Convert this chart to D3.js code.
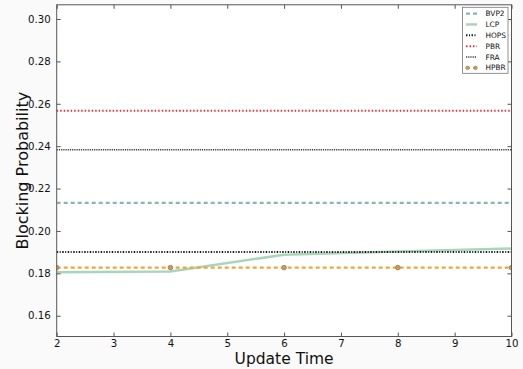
<!DOCTYPE html>
<html><head><meta charset="utf-8">
<script src="https://cdn.jsdelivr.net/npm/d3@7"></script>
<style>
html,body{margin:0;padding:0;background:#fafafa;}
svg{display:block;font-family:"DejaVu Sans",sans-serif;}
</style></head>
<body><svg id="c" width="523" height="369"></svg>
<script>
const updateTimes = [2, 4, 6, 8, 10];
const BVP2 = [0.2132, 0.2132, 0.2132, 0.2132, 0.2132];
const LCP  = [0.1805, 0.1809, 0.1888, 0.1903, 0.1917];
const HOPS = [0.1901, 0.1901, 0.1901, 0.1901, 0.1901];
const PBR  = [0.2567, 0.2567, 0.2567, 0.2567, 0.2567];
const FRA  = [0.2383, 0.2383, 0.2383, 0.2383, 0.2383];
const HPBR = [0.1827, 0.1827, 0.1827, 0.1827, 0.1827];
const seriesNames = ["BVP2", "LCP", "HOPS", "PBR", "FRA", "HPBR"];
const xTicks = [2, 3, 4, 5, 6, 7, 8, 9, 10];
const yTicks = [0.16, 0.18, 0.20, 0.22, 0.24, 0.26, 0.28, 0.30];

const styles = {
  BVP2: {color: "#8db4b4", width: 2.2, dash: "4,3"},
  LCP:  {color: "#a9d6bb", width: 2.5, dash: null},
  HOPS: {color: "#1a1a1a", width: 2, dash: "1.5,1.5,1,1.5"},
  PBR:  {color: "#e8333c", width: 2, dash: "1.5,2"},
  FRA:  {color: "#3a3a3a", width: 1.6, dash: "1.2,1"},
  HPBR: {color: "#f0a53c", width: 2.4, dash: "4,3", marker: true}
};
const data = {BVP2, LCP, HOPS, PBR, FRA, HPBR};

const L = 56.7, R = 511.5, T = 4.8, B = 336.5;
const svg = d3.select("#c");
const x = d3.scaleLinear().domain([2, 10]).range([L, R]);
const y = d3.scaleLinear().domain([0.1502, 0.3067]).range([B, T]);

svg.append("rect").attr("x", L).attr("y", T).attr("width", R - L).attr("height", B - T).attr("fill", "#fff");

svg.append("clipPath").attr("id", "pc").append("rect")
  .attr("x", L).attr("y", T).attr("width", R - L).attr("height", B - T);

const line = d3.line().x((d, i) => x(updateTimes[i])).y(d => y(d));
const g = svg.append("g").attr("clip-path", "url(#pc)");
const order = ["BVP2", "LCP", "HOPS", "PBR", "FRA", "HPBR"];
order.forEach(n => {
  const s = styles[n];
  g.append("path").datum(data[n]).attr("d", line)
    .attr("fill", "none").attr("stroke", s.color).attr("stroke-width", s.width)
    .attr("stroke-dasharray", s.dash);
  if (s.marker) {
    g.selectAll(null).data(data[n]).enter().append("circle")
      .attr("cx", (d, i) => x(updateTimes[i])).attr("cy", d => y(d)).attr("r", 2.3)
      .attr("fill", "#d19a55").attr("stroke", "#9a7a55").attr("stroke-width", 0.8);
  }
});

const axCol = "#555";
const xAxB = d3.axisBottom(x).tickValues(xTicks).tickSizeInner(-4).tickSizeOuter(0).tickPadding(3).tickFormat(d3.format("d"));
const xAxT = d3.axisTop(x).tickValues(xTicks).tickSizeInner(-4).tickSizeOuter(0).tickFormat("");
const yAxL = d3.axisLeft(y).tickValues(yTicks).tickSizeInner(-4).tickSizeOuter(0).tickPadding(6).tickFormat(d3.format(".2f"));
const yAxR = d3.axisRight(y).tickValues(yTicks).tickSizeInner(-4).tickSizeOuter(0).tickFormat("");
function styleAx(sel){
  sel.select(".domain").remove();
  sel.selectAll("line").attr("stroke", axCol);
  sel.selectAll("text").attr("fill", "#111").attr("font-size", "10.2px").attr("font-family", "DejaVu Sans");
}
svg.append("g").attr("transform", `translate(0,${B})`).call(xAxB).call(styleAx);
svg.append("g").attr("transform", `translate(0,${T})`).call(xAxT).call(styleAx);
svg.append("g").attr("transform", `translate(${L},0)`).call(yAxL).call(styleAx);
svg.append("g").attr("transform", `translate(${R},0)`).call(yAxR).call(styleAx);
svg.append("rect").attr("x", L).attr("y", T).attr("width", R - L).attr("height", B - T)
  .attr("fill", "none").attr("stroke", axCol).attr("stroke-width", 1);

svg.append("text").attr("x", (L + R) / 2).attr("y", 363.5).attr("text-anchor", "middle")
  .attr("font-size", "15.5px").attr("fill", "#111").text("Update Time");
svg.append("text").attr("transform", `translate(28,${(T + B) / 2}) rotate(-90)`).attr("text-anchor", "middle")
  .attr("font-size", "16px").attr("fill", "#111").text("Blocking Probability");

const lg = svg.append("g");
lg.append("rect").attr("x", 462.5).attr("y", 7.3).attr("width", 45.5).attr("height", 66)
  .attr("fill", "#fff").attr("stroke", "#777").attr("stroke-width", 0.8);
seriesNames.forEach((n, i) => {
  const s = styles[n];
  const yy = 13.6 + i * 10.85;
  lg.append("line").attr("x1", 466).attr("x2", 477).attr("y1", yy).attr("y2", yy)
    .attr("stroke", s.color).attr("stroke-width", s.width).attr("stroke-dasharray", s.dash);
  if (s.marker) {
    [467.5, 475.5].forEach(cx => lg.append("circle").attr("cx", cx).attr("cy", yy).attr("r", 1.8)
      .attr("fill", "#d19a55").attr("stroke", "#9a7a55").attr("stroke-width", 0.6));
  }
  lg.append("text").attr("x", 485.5).attr("y", yy).attr("dy", "0.35em")
    .attr("font-size", "7.4px").attr("fill", "#111").text(n);
});
</script></body></html>
